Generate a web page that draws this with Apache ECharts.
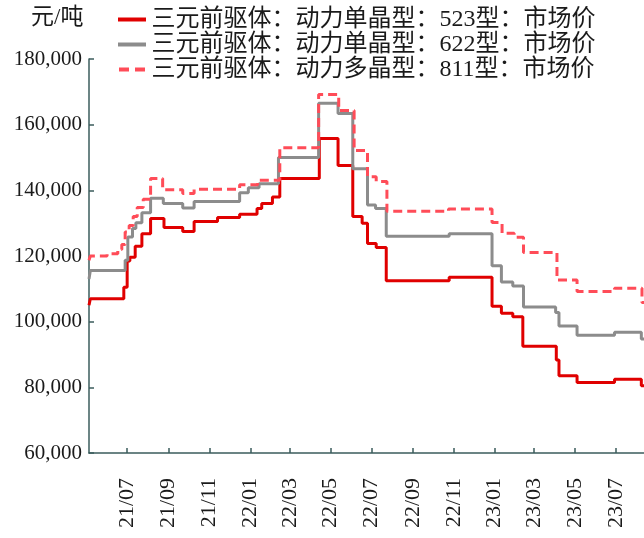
<!DOCTYPE html>
<html>
<head>
<meta charset="utf-8">
<script src="https://cdn.jsdelivr.net/npm/echarts@6/dist/echarts.min.js"></script>
<style>
html,body{margin:0;padding:0;background:#fff;}
#c{width:644px;height:538px;}
</style>
</head>
<body>
<div id="c"></div>
<script>
// ---- data ----
const seriesNames = [
  '三元前驱体：动力单晶型：523型：市场价',
  '三元前驱体：动力单晶型：622型：市场价',
  '三元前驱体：动力多晶型：811型：市场价'
];
const tickDates = ['2021-07-01','2021-09-01','2021-11-01','2022-01-01','2022-03-01','2022-05-01','2022-07-01','2022-09-01','2022-11-01','2023-01-01','2023-03-01','2023-05-01','2023-07-01'];
const tickLabels = ['21/07','21/09','21/11','22/01','22/03','22/05','22/07','22/09','22/11','23/01','23/03','23/05','23/07'];
const yTicks = [60000, 80000, 100000, 120000, 140000, 160000, 180000];

const dates523 = ['2021-05-05','2021-05-07','2021-06-26','2021-07-01','2021-07-05','2021-07-13','2021-07-23','2021-08-05','2021-08-25','2021-09-22','2021-10-09','2021-11-13','2021-12-16','2022-01-11','2022-01-18','2022-02-03','2022-02-14','2022-04-14','2022-05-12','2022-06-03','2022-06-17','2022-06-25','2022-07-08','2022-07-23','2022-10-25','2022-12-28','2023-01-11','2023-01-28','2023-02-12','2023-04-03','2023-04-07','2023-05-04','2023-06-29','2023-08-08','2023-08-12'];
const values523 = [105000,107000,110500,118500,119600,123000,126800,131400,128700,127500,130500,131700,132700,134500,136000,138000,143600,155800,147600,132000,130000,123800,122600,112500,113500,104700,102600,101500,92500,88300,83500,81500,82500,80500,80500];

const dates622 = ['2021-05-05','2021-05-07','2021-06-28','2021-07-02','2021-07-09','2021-07-14','2021-07-23','2021-08-05','2021-08-24','2021-09-22','2021-10-09','2021-12-16','2021-12-29','2022-01-14','2022-02-12','2022-04-13','2022-05-12','2022-06-03','2022-06-25','2022-07-07','2022-07-23','2022-10-25','2022-12-28','2023-01-11','2023-01-28','2023-02-13','2023-04-02','2023-04-07','2023-05-04','2023-06-29','2023-08-08','2023-08-12'];
const values622 = [113000,115600,118700,125800,128400,130100,133200,137600,136000,134600,136600,139300,140800,142000,150000,166500,163400,146600,135500,134500,126000,126800,117000,112100,110900,104500,102800,98700,95900,96800,94700,94700];

const dates811 = ['2021-05-05','2021-05-07','2021-06-01','2021-06-17','2021-06-23','2021-06-28','2021-07-04','2021-07-10','2021-07-16','2021-07-25','2021-08-05','2021-08-23','2021-09-22','2021-10-09','2021-12-16','2022-01-12','2022-02-14','2022-04-13','2022-05-13','2022-06-05','2022-06-25','2022-07-08','2022-07-24','2022-10-24','2022-12-28','2023-01-12','2023-01-30','2023-02-13','2023-04-04','2023-05-04','2023-06-29','2023-08-09','2023-08-12'];
const values811 = [118700,120000,120700,122000,123500,127300,129300,132000,134800,137300,143600,140200,139000,140300,141700,143100,153000,169200,164300,152100,144100,142700,133600,134300,130200,126900,125700,121100,112700,109200,110200,105800,105800];

// ---- helpers ----
function ts(s){ const p = s.split('-').map(Number); return Date.UTC(p[0], p[1]-1, p[2]); }
function zip(d, v){ return d.map((x,i)=>[ts(x), v[i]]); }
const tickTs = tickDates.map(ts);

const serif = "'Liberation Serif', 'Noto Sans CJK SC', serif";
const axisColor = '#3b5c5c';
const colors = ['#e00000', '#8c8c8c', '#ff4c58'];
const solidIcon = 'path://M0,0H28V4H0Z';
const dashIcon = 'path://M0,0H10V4H0Z M16,0H26V4H16Z';

const chart = echarts.init(document.getElementById('c'), null, {renderer:'canvas'});
chart.setOption({
  animation: false,
  backgroundColor: '#ffffff',
  grid: { left: 89, right: 0, top: 59, bottom: 85, containLabel: false },
  graphic: [{
    type: 'text', left: 31, top: 6,
    style: { text: '元/吨', font: "23px " + serif, fill: '#1a1a1a' }
  }],
  legend: {
    orient: 'vertical', left: 113, top: 2,
    itemWidth: 29, itemHeight: 4, itemGap: 0,
    textStyle: { fontFamily: serif, fontSize: 24, color: '#1a1a1a', lineHeight: 25 },
    data: [
      { name: seriesNames[0], icon: solidIcon },
      { name: seriesNames[1], icon: solidIcon },
      { name: seriesNames[2], icon: dashIcon }
    ]
  },
  xAxis: {
    type: 'value',
    min: ts('2021-05-05'), max: ts('2023-08-12'),
    axisLine: { show: true, onZero: false, lineStyle: { color: axisColor, width: 1.5 } },
    axisTick: { show: true, inside: true, length: 5, customValues: tickTs, lineStyle: { color: axisColor, width: 1.5 } },
    axisLabel: {
      customValues: tickTs, rotate: 90, margin: 25,
      fontFamily: serif, fontSize: 22, color: '#1a1a1a',
      formatter: function(v){ const i = tickTs.indexOf(v); return i >= 0 ? tickLabels[i] : ''; }
    },
    splitLine: { show: false }
  },
  yAxis: {
    type: 'value', min: yTicks[0], max: yTicks[yTicks.length-1], interval: 20000,
    axisLine: { show: true, lineStyle: { color: axisColor, width: 1.5 } },
    axisTick: { show: true, inside: true, length: 5, lineStyle: { color: axisColor, width: 1.5 } },
    axisLabel: {
      margin: 7, fontFamily: serif, fontSize: 21, color: '#1a1a1a',
      formatter: function(v){ return v.toLocaleString('en-US'); }
    },
    splitLine: { show: false }
  },
  series: [
    { name: seriesNames[0], type: 'line', step: 'end', symbol: 'none', data: zip(dates523, values523),
      lineStyle: { color: colors[0], width: 3 }, itemStyle: { color: colors[0] } },
    { name: seriesNames[1], type: 'line', step: 'end', symbol: 'none', data: zip(dates622, values622),
      lineStyle: { color: colors[1], width: 3 }, itemStyle: { color: colors[1] } },
    { name: seriesNames[2], type: 'line', step: 'end', symbol: 'none', data: zip(dates811, values811),
      lineStyle: { color: colors[2], width: 3, type: [9, 5] }, itemStyle: { color: colors[2] } }
  ]
});
</script>
</body>
</html>
